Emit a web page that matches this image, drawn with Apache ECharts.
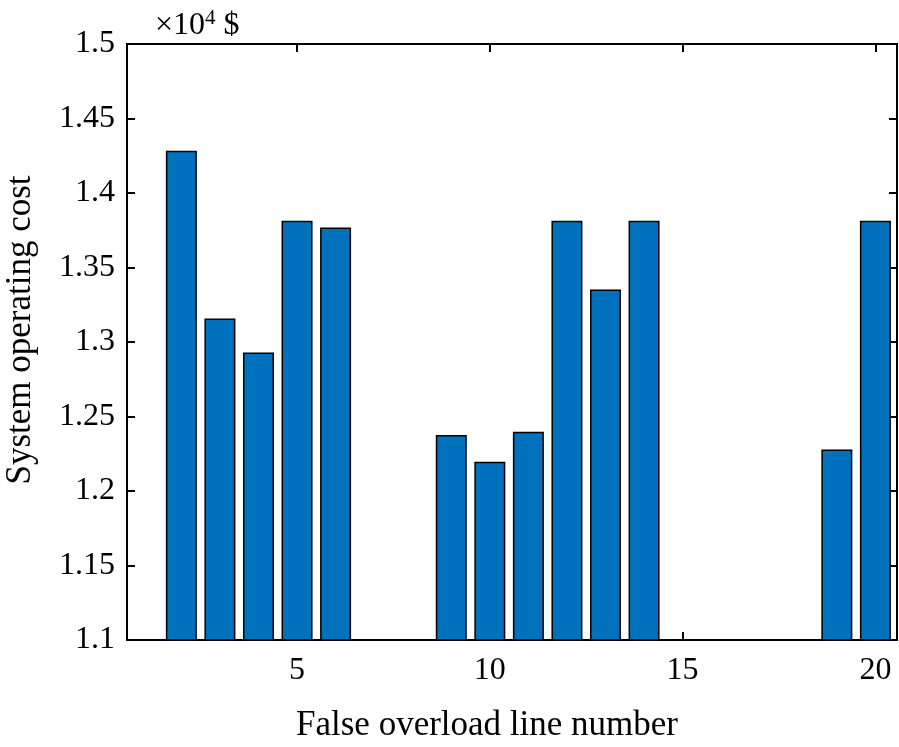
<!DOCTYPE html>
<html>
<head>
<meta charset="utf-8">
<script src="https://cdn.jsdelivr.net/npm/echarts@6/dist/echarts.min.js"></script>
<style>
  html, body { margin: 0; padding: 0; background: #fff; }
  #chart { width: 899px; height: 747px; }
</style>
</head>
<body>
<div id="chart"></div>
<script>
// line numbers 1..20, costs in units of 10^4 $ (null = below the axis floor)
var lineNumbers = [1, 2, 3, 4, 5, 6, 7, 8, 9, 10, 11, 12, 13, 14, 15, 16, 17, 18, 19, 20];
var costs = [null, 1.4283, 1.3158, 1.2929, 1.3813, 1.3769, null, null, 1.2376, 1.2197,
             1.2398, 1.3813, 1.3352, 1.3813, null, null, null, null, 1.2278, 1.3813];
var xTicks = [5, 10, 15, 20];

var font = '"Liberation Serif", "Times New Roman", serif';

var barData = [];
for (var i = 0; i < lineNumbers.length; i++) {
    if (costs[i] != null) {
        barData.push([lineNumbers[i], costs[i]]);
    }
}

var chart = echarts.init(document.getElementById('chart'), null, { renderer: 'canvas' });

var axisLine = { show: true, lineStyle: { color: '#000', width: 2 } };
var tickStyle = { color: '#000', width: 2 };

var option = {
    animation: false,
    backgroundColor: '#fff',
    textStyle: { fontFamily: font },
    title: {
        text: '×10{sup|4} $',
        left: 150,
        top: 3,
        textStyle: {
            fontFamily: font,
            fontWeight: 'normal',
            fontSize: 32,
            color: '#000',
            rich: {
                sup: { fontFamily: font, fontSize: 21, color: '#000', verticalAlign: 'top', padding: [0, 0, 14, 0] }
            }
        }
    },
    grid: { left: 127, right: 2, top: 44, bottom: 107, containLabel: false, outerBoundsMode: 'none' },
    xAxis: [
        {
            type: 'value',
            min: 0.59,
            max: 20.56,
            name: 'False overload line number',
            nameLocation: 'middle',
            nameGap: 68,
            nameTextStyle: { fontFamily: font, fontSize: 35, color: '#000', padding: [0, 50, 0, 0] },
            axisLine: axisLine,
            axisTick: { show: true, inside: true, length: 8, customValues: xTicks, lineStyle: tickStyle },
            axisLabel: { customValues: xTicks, fontFamily: font, fontSize: 32, color: '#000', margin: 15 },
            splitLine: { show: false }
        },
        {
            type: 'value',
            position: 'top',
            min: 0.59,
            max: 20.56,
            axisLine: axisLine,
            axisTick: { show: true, inside: true, length: 8, customValues: xTicks, lineStyle: tickStyle },
            axisLabel: { show: false },
            splitLine: { show: false }
        }
    ],
    yAxis: [
        {
            type: 'value',
            min: 1.1,
            max: 1.5,
            interval: 0.05,
            name: 'System operating cost',
            nameLocation: 'middle',
            nameGap: 89,
            nameTextStyle: { fontFamily: font, fontSize: 35, color: '#000', padding: [0, 0, 0, 24] },
            axisLine: axisLine,
            axisTick: { show: true, inside: true, length: 8, lineStyle: tickStyle },
            axisLabel: {
                fontFamily: font, fontSize: 32, color: '#000', margin: 12,
                formatter: function (v) { return String(Math.round(v * 100) / 100); }
            },
            splitLine: { show: false }
        },
        {
            type: 'value',
            position: 'right',
            min: 1.1,
            max: 1.5,
            interval: 0.05,
            axisLine: axisLine,
            axisTick: { show: true, inside: true, length: 8, lineStyle: tickStyle },
            axisLabel: { show: false },
            splitLine: { show: false }
        }
    ],
    series: [
        {
            type: 'bar',
            xAxisIndex: 0,
            yAxisIndex: 0,
            data: barData,
            barWidth: 31,
            clip: true,
            itemStyle: { color: '#0072BD', borderColor: '#000', borderWidth: 1.5 }
        }
    ]
};

chart.setOption(option);
</script>
</body>
</html>
